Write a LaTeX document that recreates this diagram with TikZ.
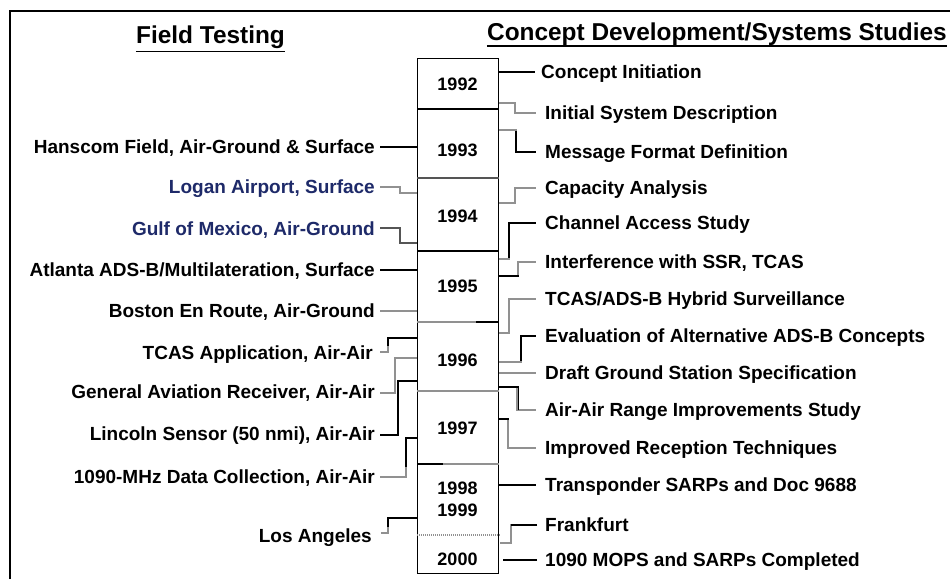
\documentclass[tikz,border=0pt]{standalone}
\usepackage{fontspec}
\setmainfont{Liberation Sans}
\usetikzlibrary{calc}
\definecolor{gry}{RGB}{145,145,145}
\definecolor{dgry}{RGB}{85,85,85}
\definecolor{navy}{RGB}{30,42,105}
\begin{document}
\begin{tikzpicture}[x=1pt,y=-1pt,
  lbl/.style={font=\fontsize{19}{21}\selectfont\bfseries, inner sep=0pt, text height=13.6pt, text depth=0pt},
  yr/.style={font=\fontsize{18}{20}\selectfont\bfseries, inner sep=0pt, text height=12.9pt, text depth=0pt},
  hdr/.style={font=\fontsize{24.4}{28}\selectfont\bfseries, inner sep=0pt, text height=17.5pt, text depth=0pt},
  con/.style={line width=1.3pt},
  divline/.style={line width=1.2pt}]
\useasboundingbox (0,0) rectangle (950,579);
\fill[white] (0,0) rectangle (950,579);
% frame
\draw[line width=2.5pt] (10,579) -- (10,11) -- (950,11);
% headers
\node[hdr] (ft) at (210.5,34.5) {Field Testing};
\draw[line width=1.8pt] ($(ft.south west)+(0,8)$) -- ($(ft.south east)+(0,8)$);
\node[hdr] (cd) at (717,32) {Concept Development/Systems Studies};
\draw[line width=1.8pt] ($(cd.south west)+(0,5)$) -- ($(cd.south east)+(0,5)$);
% year column
\node[draw, line width=1.3pt, minimum width=81pt, minimum height=515pt, inner sep=0pt, anchor=north west] (box) at (417,58) {};
\draw[divline] (box.west |- 0,109) -- (box.east |- 0,109);
\draw[divline,dgry] (box.west |- 0,178) -- (box.east |- 0,178);
\draw[divline] (box.west |- 0,251) -- (box.east |- 0,251);
\draw[divline] (box.west |- 0,322) -- (box.east |- 0,322);
\draw[divline,gry] (box.west |- 0,322) -- ++(59,0);
\draw[divline,gry] (box.west |- 0,391) -- (box.east |- 0,391);
\draw[divline,gry] (box.west |- 0,464) -- (box.east |- 0,464);
\draw[divline] (box.west |- 0,464) -- ++(26,0);
\draw[divline,gry,dash pattern=on 1pt off 1pt] (box.west |- 0,535) -- (box.east |- 0,535);
\node[yr] (y92) at (457.5,84) {1992};
\node[yr] (y93) at (457.5,150) {1993};
\node[yr] (y94) at (457.5,216) {1994};
\node[yr] (y95) at (457.5,286) {1995};
\node[yr] (y96) at (457.5,360) {1996};
\node[yr] (y97) at (457.5,428) {1997};
\node[yr] (y98) at (457.5,488) {1998};
\node[yr] (y99) at (457.5,510) {1999};
\node[yr] (y00) at (457.5,559) {2000};
% left labels
\node[lbl,anchor=east] (hanscom) at (375,147) {Hanscom Field, Air-Ground \& Surface};
\node[lbl,anchor=east,text=navy] (logan) at (375,187) {Logan Airport, Surface};
\node[lbl,anchor=east,text=navy] (gulf) at (375,229) {Gulf of Mexico, Air-Ground};
\node[lbl,anchor=east] (atlanta) at (375,270) {Atlanta ADS-B/Multilateration, Surface};
\node[lbl,anchor=east] (boston) at (375,311) {Boston En Route, Air-Ground};
\node[lbl,anchor=east] (tcasapp) at (373,353) {TCAS Application, Air-Air};
\node[lbl,anchor=east] (genav) at (375,392) {General Aviation Receiver, Air-Air};
\node[lbl,anchor=east] (lincoln) at (375,434) {Lincoln Sensor (50 nmi), Air-Air};
\node[lbl,anchor=east] (mhz) at (375,477) {1090-MHz Data Collection, Air-Air};
\node[lbl,anchor=east] (la) at (372,536) {Los Angeles};
% left connectors
\draw[con] ($(hanscom.east)+(5,0)$) -- (box.west |- hanscom.east);
\draw[con,gry] ($(logan.east)+(5,0)$) -- ++(20,0) |- (box.west |- 0,193);
\draw[con,dgry] ($(gulf.east)+(5,-1)$) -- ++(20,0) |- (box.west |- 0,243);
\draw[con] ($(atlanta.east)+(5,0)$) -- (box.west |- atlanta.east);
\draw[con,gry] ($(boston.east)+(5,0)$) -- (box.west |- boston.east);
\draw[con] ($(tcasapp.east)+(7,-1)$) -- ++(8,0) |- (box.west |- 0,338);
\draw[con,gry] ($(tcasapp.east)+(7,-1)$) -- ++(8,0) -- ++(0,-6);
\draw[con,gry] ($(genav.east)+(5,1)$) -- ++(15,0) |- (box.west |- 0,358);
\draw[con] ($(lincoln.east)+(5,1)$) -- ++(18,0) |- (box.west |- 0,381);
\draw[con] ($(mhz.east)+(5,0)$) -- ++(26,0) |- (box.west |- 0,438);
\draw[con,gry] ($(mhz.east)+(5,0)$) -- ++(26,0) -- ++(0,-10);
\draw[con] ($(la.east)+(9,-3)$) -- ++(7,0) |- (box.west |- 0,518);
\draw[con,gry] ($(la.east)+(9,-3)$) -- ++(7,0) -- ++(0,-6);
% right labels
\node[lbl,anchor=west] (ci) at (541,72) {Concept Initiation};
\node[lbl,anchor=west] (isd) at (545,113) {Initial System Description};
\node[lbl,anchor=west] (mfd) at (545,152) {Message Format Definition};
\node[lbl,anchor=west] (ca) at (545,188) {Capacity Analysis};
\node[lbl,anchor=west] (cas) at (545,223) {Channel Access Study};
\node[lbl,anchor=west] (iws) at (545,262) {Interference with SSR, TCAS};
\node[lbl,anchor=west] (tah) at (545,299) {TCAS/ADS-B Hybrid Surveillance};
\node[lbl,anchor=west] (eval) at (545,336) {Evaluation of Alternative ADS-B Concepts};
\node[lbl,anchor=west] (dgs) at (545,373) {Draft Ground Station Specification};
\node[lbl,anchor=west] (aaris) at (545,410) {Air-Air Range Improvements Study};
\node[lbl,anchor=west] (irt) at (545,448) {Improved Reception Techniques};
\node[lbl,anchor=west] (tsarp) at (545,485) {Transponder SARPs and Doc 9688};
\node[lbl,anchor=west] (fra) at (545,525) {Frankfurt};
\node[lbl,anchor=west] (mops) at (545,560) {1090 MOPS and SARPs Completed};
% right connectors
\draw[con] (box.east |- ci.west) -- ($(ci.west)+(-6,0)$);
\draw[con,gry] (box.east |- 0,103) -| ($(isd.west)+(-30,0)$) -- ($(isd.west)+(-9,0)$);
\draw[con] (box.east |- 0,130) -| ($(mfd.west)+(-29,0)$) -- ($(mfd.west)+(-9,0)$);
\draw[con,gry] (box.east |- 0,130) -- ++(18,0);
\draw[con,gry] (box.east |- 0,203) -| ($(ca.west)+(-30,0)$) -- ($(ca.west)+(-9,0)$);
\draw[con] (box.east |- 0,259) -| ($(cas.west)+(-36,0)$) -- ($(cas.west)+(-9,0)$);
\draw[con,gry] (box.east |- 0,259) -- ++(11,0);
\draw[con,gry] (box.east |- 0,276) -| ($(iws.west)+(-27,0)$) -- ($(iws.west)+(-9,0)$);
\draw[con] (box.east |- 0,276) -- ++(20,0);
\draw[con,gry] (box.east |- 0,333) -| ($(tah.west)+(-36,0)$) -- ($(tah.west)+(-9,0)$);
\draw[con] (box.east |- 0,362) -| ($(eval.west)+(-24,0)$) -- ($(eval.west)+(-9,0)$);
\draw[con,gry] (box.east |- 0,362) -- ++(23,0);
\draw[con,gry] (box.east |- dgs.west) -- ($(dgs.west)+(-9,0)$);
\draw[con,gry] (box.east |- 0,387) -| ($(aaris.west)+(-28,0)$) -- ($(aaris.west)+(-9,0)$);
\draw[con] (box.east |- 0,387) -- ++(19,0) -- ++(0,23);
\draw[con,gry] (box.east |- 0,419) -| ($(irt.west)+(-37,0)$) -- ($(irt.west)+(-9,0)$);
\draw[con] (box.east |- 0,419) -- ++(10,0);
\draw[con] (box.east |- tsarp.west) -- ($(tsarp.west)+(-9,0)$);
\draw[con,gry] ($(fra.west)+(-8,0)$) -- ++(-26,0) |- ++(-11,18);
\draw[con] ($(fra.west)+(-8,0)$) -- ++(-26,0);
\draw[con] ($(mops.west)+(-8,0)$) -- ++(-34,0);
\end{tikzpicture}
\end{document}
